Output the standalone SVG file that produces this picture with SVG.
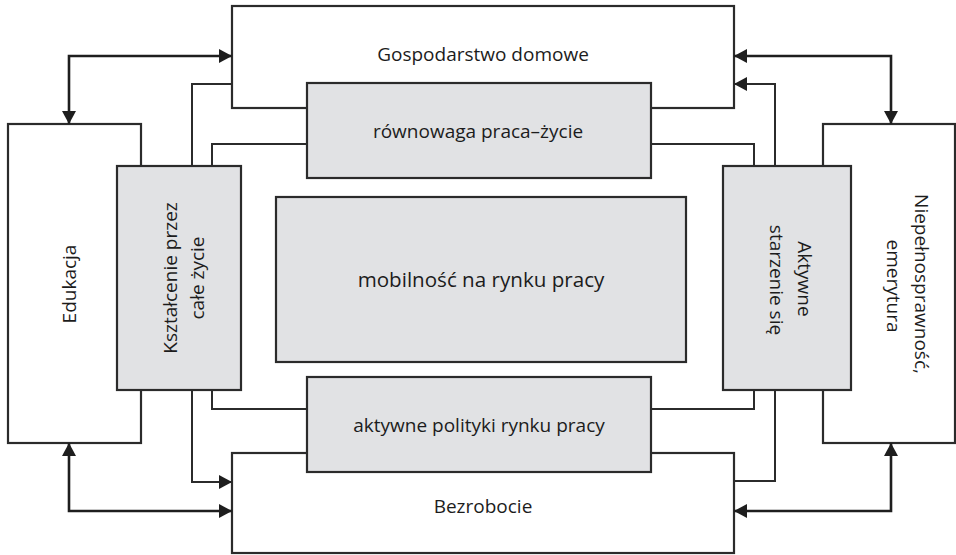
<svg xmlns="http://www.w3.org/2000/svg" width="956" height="555" viewBox="0 0 956 555">
<defs>
<style>
.box{fill:#ffffff;stroke:#2b2b2b;stroke-width:2.2}
.gray{fill:#e1e2e4;stroke:#2b2b2b;stroke-width:2.2}
.con{fill:none;stroke:#2b2b2b;stroke-width:2}
.arr{fill:none;stroke:#1e1e1e;stroke-width:2.6}
text{font-family:"Open Sans","Noto Sans","Liberation Sans",sans-serif;font-size:19px;fill:#1c1c1c;text-anchor:middle}
.big{font-size:20.6px}
</style>
<marker id="ah" viewBox="0 0 13 14" refX="13" refY="7" markerWidth="13" markerHeight="14" markerUnits="userSpaceOnUse" orient="auto-start-reverse">
<path d="M0,0 L13,7 L0,14 Z" fill="#1e1e1e"/>
</marker>
</defs>
<rect width="956" height="555" fill="#ffffff"/>
<g id="gospodarstwo"><rect class="box" x="232" y="6" width="502" height="102"/><text x="483" y="61">Gospodarstwo domowe</text></g>
<g id="bezrobocie"><rect class="box" x="232" y="453" width="502" height="100"/><text x="483" y="513">Bezrobocie</text></g>
<g id="edukacja"><rect class="box" x="8" y="124" width="133" height="319"/><text transform="translate(76,284) rotate(-90)">Edukacja</text></g>
<g id="niepelnosprawnosc"><rect class="box" x="823" y="124" width="132" height="319"/><text transform="translate(915,284) rotate(90)">Niepełnosprawność,</text><text transform="translate(887,286) rotate(90)">emerytura</text></g>
<g id="connectors">
<path class="arr" d="M69,124 V56 H232" marker-start="url(#ah)" marker-end="url(#ah)"/>
<path class="arr" d="M69,443 V511 H232" marker-start="url(#ah)" marker-end="url(#ah)"/>
<path class="arr" d="M891,124 V56 H734" marker-start="url(#ah)" marker-end="url(#ah)"/>
<path class="arr" d="M891,443 V511 H734" marker-start="url(#ah)" marker-end="url(#ah)"/>
<path class="con" d="M232,84 H192 V166"/>
<path class="con" d="M192,390 V482 H232" marker-end="url(#ah)"/>
<path class="con" d="M307,144 H212 V166"/>
<path class="con" d="M212,390 V409 H307"/>
<path class="con" d="M651,144 H754 V166"/>
<path class="con" d="M651,409 H754 V390"/>
<path class="con" d="M775,166 V84 H734" marker-end="url(#ah)"/>
<path class="con" d="M734,481 H775 V390"/>
</g>
<g id="rownowaga"><rect class="gray" x="307" y="83" width="344" height="95"/><text x="478" y="138">równowaga praca–życie</text></g>
<g id="polityki"><rect class="gray" x="307" y="377" width="344" height="95"/><text x="479" y="432">aktywne polityki rynku pracy</text></g>
<g id="mobilnosc"><rect class="gray" x="276" y="197" width="410" height="165"/><text class="big" x="481" y="287">mobilność na rynku pracy</text></g>
<g id="ksztalcenie"><rect class="gray" x="117" y="166" width="124" height="224"/><text transform="translate(177,278) rotate(-90)">Kształcenie przez</text><text transform="translate(204,278) rotate(-90)">całe życie</text></g>
<g id="starzenie"><rect class="gray" x="723" y="166" width="128" height="224"/><text transform="translate(798,279) rotate(90)">Aktywne</text><text transform="translate(770,280) rotate(90)">starzenie się</text></g>
</svg>
